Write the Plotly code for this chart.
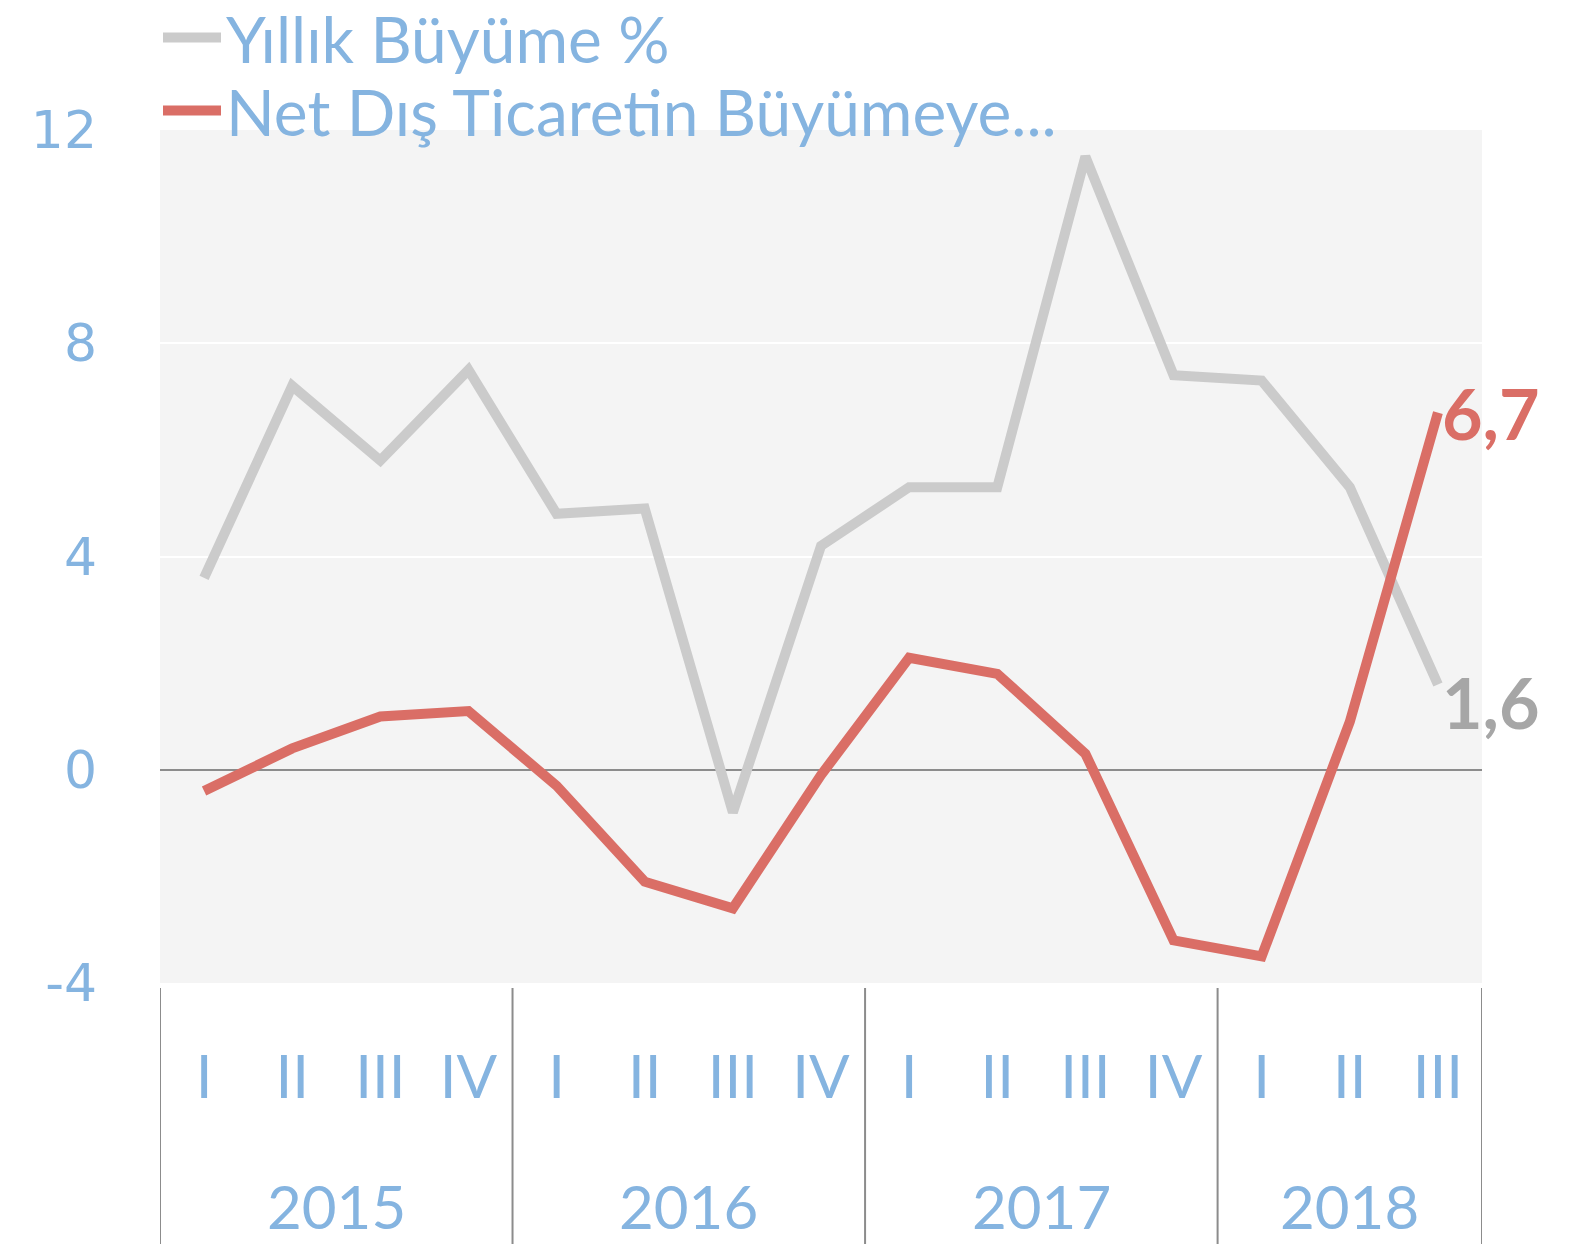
import plotly.graph_objects as go

years = ["2015"] * 4 + ["2016"] * 4 + ["2017"] * 4 + ["2018"] * 3
quarters = ["I", "II", "III", "IV"] * 3 + ["I", "II", "III"]
growth = [3.6, 7.2, 5.8, 7.5, 4.8, 4.9, -0.8, 4.2, 5.3, 5.3, 11.5, 7.4, 7.3, 5.3, 1.6]
net_trade = [-0.4, 0.4, 1.0, 1.1, -0.3, -2.1, -2.6, -0.1, 2.1, 1.8, 0.3, -3.2, -3.5, 0.9, 6.7]
names = ["Yıllık Büyüme %", "Net Dış Ticaretin Büyümeye..."]
end_labels = ["1,6", "6,7"]
y_ticks = [-4, 0, 4, 8, 12]
y_tick_text = ["-4", "0", "4", "8", "12"]

BLUE = "#85B4E0"
GRAY = "#CBCBCB"
RED = "#DA6E66"
DIV = "#8C8C8C"

idx = list(range(len(quarters)))
fig = go.Figure()
for i, (vals, name, col, lbl, lcol, shift) in enumerate([
    (growth, names[0], GRAY, end_labels[0], "#A6A6A6", -18),
    (net_trade, names[1], RED, end_labels[1], RED, 0),
]):
    fig.add_trace(go.Scatter(
        x=idx, y=vals, name=name, mode="lines",
        line=dict(color=col, width=10),
        legend="legend" if i == 0 else "legend2",
    ))
    fig.add_annotation(x=idx[-1], y=vals[-1], xref="x", yref="y", text=lbl,
                       showarrow=False, xanchor="left", yanchor="middle",
                       xshift=2, yshift=shift,
                       font=dict(family="Lato", size=70, color=lcol, weight="bold"))

# year groups: labels and dividers
groups = []
for i, yv in enumerate(years):
    if not groups or groups[-1][0] != yv:
        groups.append([yv, i, i])
    else:
        groups[-1][2] = i

bottom = -269 / 853
for yv, a, b in groups:
    fig.add_annotation(x=(a + b) / 2, y=-0.262, xref="x", yref="paper", text=yv,
                       showarrow=False, yanchor="middle",
                       font=dict(family="Lato", size=60, color=BLUE))
    fig.add_shape(type="line", xref="x", yref="paper", x0=a - 0.5, x1=a - 0.5,
                  y0=-0.006, y1=bottom, line=dict(color=DIV, width=2))
last = groups[-1][2] + 0.5
fig.add_shape(type="line", xref="x", yref="paper", x0=last, x1=last,
              y0=-0.006, y1=bottom, line=dict(color=DIV, width=2))

leg_common = dict(x=0, xref="container", yref="container", xanchor="left", yanchor="middle",
                  font=dict(family="Lato", size=64, color=BLUE),
                  bgcolor="rgba(0,0,0,0)", itemwidth=58, indentation=150)

fig.update_layout(
    width=1570, height=1244,
    margin=dict(l=152, r=96, t=122, b=269, autoexpand=False),
    paper_bgcolor="white", plot_bgcolor="#F4F4F4",
    showlegend=True,
    legend=dict(y=1 - 30 / 1244, **leg_common),
    legend2=dict(y=1 - 103 / 1244, **leg_common),
    yaxis=dict(range=[-4, 12], tickvals=y_ticks, ticktext=y_tick_text, showgrid=True,
               gridcolor="white", gridwidth=2, zeroline=True, zerolinecolor=DIV,
               zerolinewidth=2, tickfont=dict(family="DejaVu Sans", size=52, color=BLUE),
               ticks="", ticklabelstandoff=62, automargin=False),
    xaxis=dict(range=[-0.5, len(idx) - 0.5], tickvals=idx, ticktext=quarters,
               showgrid=False, zeroline=False, tickangle=0, automargin=False,
               ticklabelstandoff=54,
               tickfont=dict(family="Lato", size=60, color=BLUE), ticks=""),
)

fig.write_html("out.html")
